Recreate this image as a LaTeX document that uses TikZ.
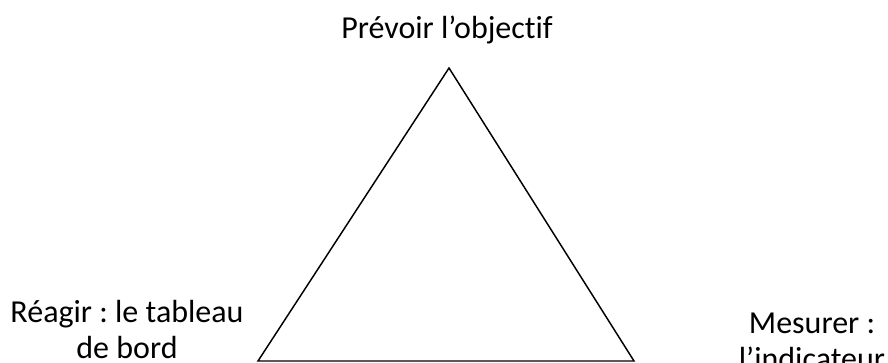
\documentclass[tikz,border=0pt]{standalone}
\usepackage{fontspec}
\setmainfont{Carlito}[Ligatures=NoCommon]
\usepackage{tikz}
\frenchspacing

\begin{document}
\begin{tikzpicture}[x=0.75pt, y=-0.75pt, line width=1.1pt,
  label/.style={font=\fontsize{24}{27}\selectfont, align=center, inner sep=0pt, anchor=base}]
  \useasboundingbox (0,0) rectangle (888,363);
  % corners of the triangle
  \coordinate (apex) at (449,68);
  \coordinate (left) at (258,361);
  \coordinate (right) at (634,361);
  \draw[line join=miter] (apex) -- (left) -- (right) -- cycle;
  % texts
  \node[label] (prevoir) at (447,39) {Prévoir l’objectif};
  \node[label] (reagir) at (127,358) {Réagir : le tableau\\de bord};
  \node[label] (mesurer) at (812,369) {Mesurer :\\l’indicateur};
\end{tikzpicture}
\end{document}
